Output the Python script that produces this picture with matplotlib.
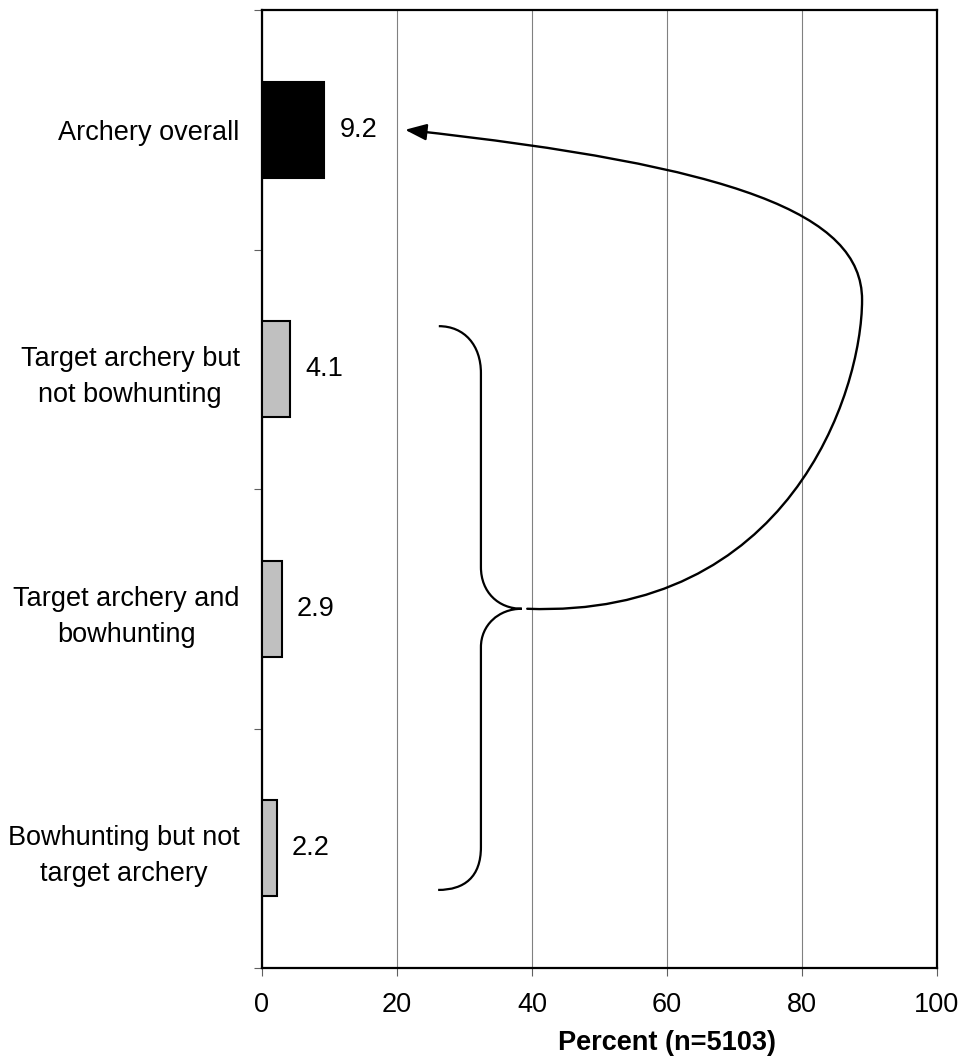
import numpy as np
import matplotlib
matplotlib.use("Agg")
import matplotlib.pyplot as plt
from matplotlib.path import Path
from matplotlib.patches import PathPatch, FancyArrowPatch

plt.rcParams['font.family'] = ['Liberation Sans', 'DejaVu Sans']
plt.rcParams['font.size'] = 19.5

# Participation shares, in percent
categories = ['Archery overall',
              'Target archery but\nnot bowhunting',
              'Target archery and\nbowhunting',
              'Bowhunting but not\ntarget archery']
percent = [9.2, 4.1, 2.9, 2.2]
bar_colors = ['black', '#C0C0C0', '#C0C0C0', '#C0C0C0']
xticks = [0, 20, 40, 60, 80, 100]

fig = plt.figure(figsize=(9.63, 10.57), dpi=100)
ax = fig.add_axes([0.272, 0.0842, 0.701, 0.9063])

ypos = np.arange(len(categories))
ax.barh(ypos, percent, height=0.4, color=bar_colors, edgecolor='black',
        linewidth=1.5, zorder=3)
for y, v in zip(ypos, percent):
    ax.annotate(f'{v:.1f}', (v, y), xytext=(11, 0), textcoords='offset points',
                ha='left', va='center')

ax.set_xlim(0, 100)
ax.set_ylim(len(categories) - 0.5, -0.5)
ax.set_xticks(xticks)
ax.set_yticks(ypos)
ax.set_yticklabels(categories)
for lbl in ax.get_yticklabels():
    lbl.set_multialignment('center')
    lbl.set_linespacing(1.5)
ax.set_yticks(np.arange(len(categories) + 1) - 0.5, minor=True)
ax.tick_params(axis='y', which='major', length=0, pad=16)
ax.tick_params(axis='y', which='minor', length=6, width=0.8, color='#606060')
ax.tick_params(axis='x', length=6, width=0.8, color='#606060', pad=11)

ax.xaxis.grid(True, color='#808080', linewidth=0.8, zorder=0)
ax.set_axisbelow(True)
for s in ax.spines.values():
    s.set_linewidth(1.6)
    s.set_color('black')

ax.set_xlabel('Percent (n=5103)', fontweight='bold')
ax.xaxis.set_label_coords(0.6, -0.065)

# brace grouping the three sub-categories
brace_x, tip_x = 32.44, 38.5
brace = Path(
    [(26.2, 0.82), (30.0, 0.82), (brace_x, 0.90), (brace_x, 1.016),
     (brace_x, 1.826),
     (brace_x, 1.93), (35.0, 2.0), (tip_x, 2.0),
     (35.0, 2.0), (brace_x, 2.07), (brace_x, 2.16),
     (brace_x, 2.995),
     (brace_x, 3.12), (30.0, 3.174), (26.1, 3.174)],
    [Path.MOVETO, Path.CURVE4, Path.CURVE4, Path.CURVE4,
     Path.LINETO,
     Path.CURVE4, Path.CURVE4, Path.CURVE4,
     Path.CURVE4, Path.CURVE4, Path.CURVE4,
     Path.LINETO,
     Path.CURVE4, Path.CURVE4, Path.CURVE4])
ax.add_patch(PathPatch(brace, fill=False, edgecolor='black', linewidth=1.6,
                       zorder=4))

# curved arrow from the brace back to the overall bar
loop = Path(
    [(39.3, 2.0), (78.0, 2.04), (88.9, 1.1), (88.9, 0.71),
     (88.9, 0.35), (70.0, 0.15), (21.2, 0.0)],
    [Path.MOVETO, Path.CURVE4, Path.CURVE4, Path.CURVE4,
     Path.CURVE4, Path.CURVE4, Path.CURVE4])
arrow = FancyArrowPatch(path=loop, arrowstyle='-|>,head_length=0.65,head_width=0.25',
                        mutation_scale=20, color='black', linewidth=1.7,
                        zorder=4)
ax.add_patch(arrow)

fig.savefig('out.png', dpi=100)
